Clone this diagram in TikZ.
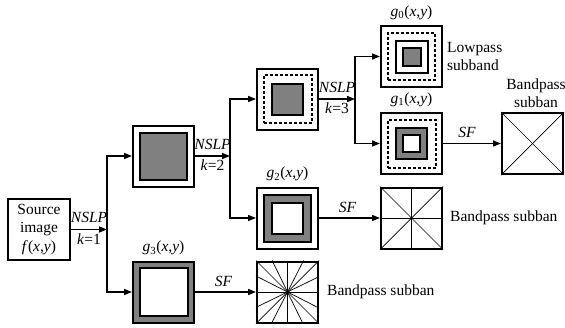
\documentclass[tikz,border=0pt]{standalone}
\usepackage{fontspec}
\setmainfont{Liberation Serif}
\usetikzlibrary{arrows.meta,positioning}

\newcommand{\fxy}{\textit{f}(\textit{x},\textit{y})}
\newcommand{\gxy}[1]{\textit{g}\textsubscript{#1}(\textit{x},\textit{y})}

\begin{document}
\begin{tikzpicture}[x=1pt,y=-1pt,font=\fontsize{15.5}{18.5}\selectfont,
  sq/.style={rectangle,draw,line width=2pt,inner sep=0pt,minimum size=#1},
  sq/.default=61pt,
  gr/.style={sq=#1,fill=black!50},
  wh/.style={sq=#1,fill=white},
  dsh/.style={sq=#1,dash pattern=on 3pt off 2pt},
  ray/.style={line width=0.7pt},
  ar/.style={line width=1.5pt,-{Triangle[length=8pt,width=6pt]}},
  lb/.style={inner sep=1pt}]
  \useasboundingbox (0,0) rectangle (565,327);

  % source image
  \node[sq,minimum width=62pt,align=center] (src) at (39,229.5) {Source\\image\\\fxy};
  \coordinate (j1) at (107,229.5);

  % level k=1
  \node[sq] (k2) at (163.5,156) {};
  \node[gr=47pt] (k2a) at (k2) {};
  \node[gr] (g3) at (163.5,292) {};
  \node[wh=48pt] (g3a) at (g3) {};
  \node[lb,above=4pt] (g3l) at (g3.north) {\gxy{3}};
  \coordinate (j2) at (230,156);

  % level k=2
  \node[sq] (k3) at (287.5,99) {};
  \node[dsh=48pt] (k3a) at (k3) {};
  \node[gr=31pt] (k3b) at (k3) {};
  \node[sq] (g2) at (287.5,218) {};
  \node[gr=47pt] (g2a) at (g2) {};
  \node[wh=31pt] (g2b) at (g2) {};
  \node[lb,above=4pt] (g2l) at (g2.north) {\gxy{2}};
  \coordinate (j3) at (355,99);

  % level k=3
  \node[sq] (g0) at (411.5,56.5) {};
  \node[dsh=47pt] (g0a) at (g0) {};
  \node[sq=32pt] (g0b) at (g0) {};
  \node[gr=18pt] (g0c) at (g0) {};
  \node[lb,above=4pt] (g0l) at (g0.north) {\gxy{0}};
  \node[lb,right=3pt,align=left] (low) at (g0.east) {Lowpass\\subband};
  \node[sq] (g1) at (411.5,143.5) {};
  \node[dsh=48pt] (g1a) at (g1) {};
  \node[gr=31pt] (g1b) at (g1) {};
  \node[wh=17pt] (g1c) at (g1) {};
  \node[lb,above=4pt] (g1l) at (g1.north) {\gxy{1}};

  % directional filter banks
  \node[sq] (f1) at (532.5,143.5) {};
  \foreach \a in {45,135}
    \draw[ray] (f1.\a) -- (f1.\a+180);
  \node[lb,above=3pt,xshift=3.5pt,align=center] (b1) at (f1.north) {Bandpass\\subban};
  \node[sq] (f2) at (411.5,218) {};
  \foreach \a [evaluate=\a as \b using \a+180] in {0,45,90,135}
    \draw[ray] (f2.\a) -- (f2.\b);
  \fill (f2) circle (1.5pt);
  \node[lb,right=6pt] (b2) at (f2.east) {Bandpass subban};
  \node[sq] (f3) at (287.5,292) {};
  \foreach \a [evaluate=\a as \b using \a+180] in {0,26.57,45,63.43,90,116.57,135,153.43}
    \draw[ray] (f3.\a) -- (f3.\b);
  \node[lb,right=7pt] (b3) at (f3.east) {Bandpass subban};

  % connectors
  \draw[ar] (src) -- node[lb,above=5pt]{\textit{NSLP}} node[lb,below=2pt]{\textit{k}=1} (j1);
  \draw[ar] (j1) |- (k2.west);
  \draw[ar] (j1) |- (g3.west);
  \draw[ar] (k2) -- node[lb,above=5pt]{\textit{NSLP}} node[lb,below=2pt]{\textit{k}=2} (j2);
  \draw[ar] (j2) |- (k3.west);
  \draw[ar] (j2) |- (g2.west);
  \draw[ar] (k3) -- node[lb,above=5pt]{\textit{NSLP}} node[lb,below=2pt]{\textit{k}=3} (j3);
  \draw[ar] (j3) |- (g0.west);
  \draw[ar] (j3) |- (g1.west);
  \draw[ar] (g1) -- node[lb,above=4pt,xshift=-5pt]{\textit{SF}} (f1);
  \draw[ar] (g2) -- node[lb,above=4pt,xshift=-2pt]{\textit{SF}} (f2);
  \draw[ar] (g3) -- node[lb,above=4pt,xshift=-2pt]{\textit{SF}} (f3);
\end{tikzpicture}
\end{document}
